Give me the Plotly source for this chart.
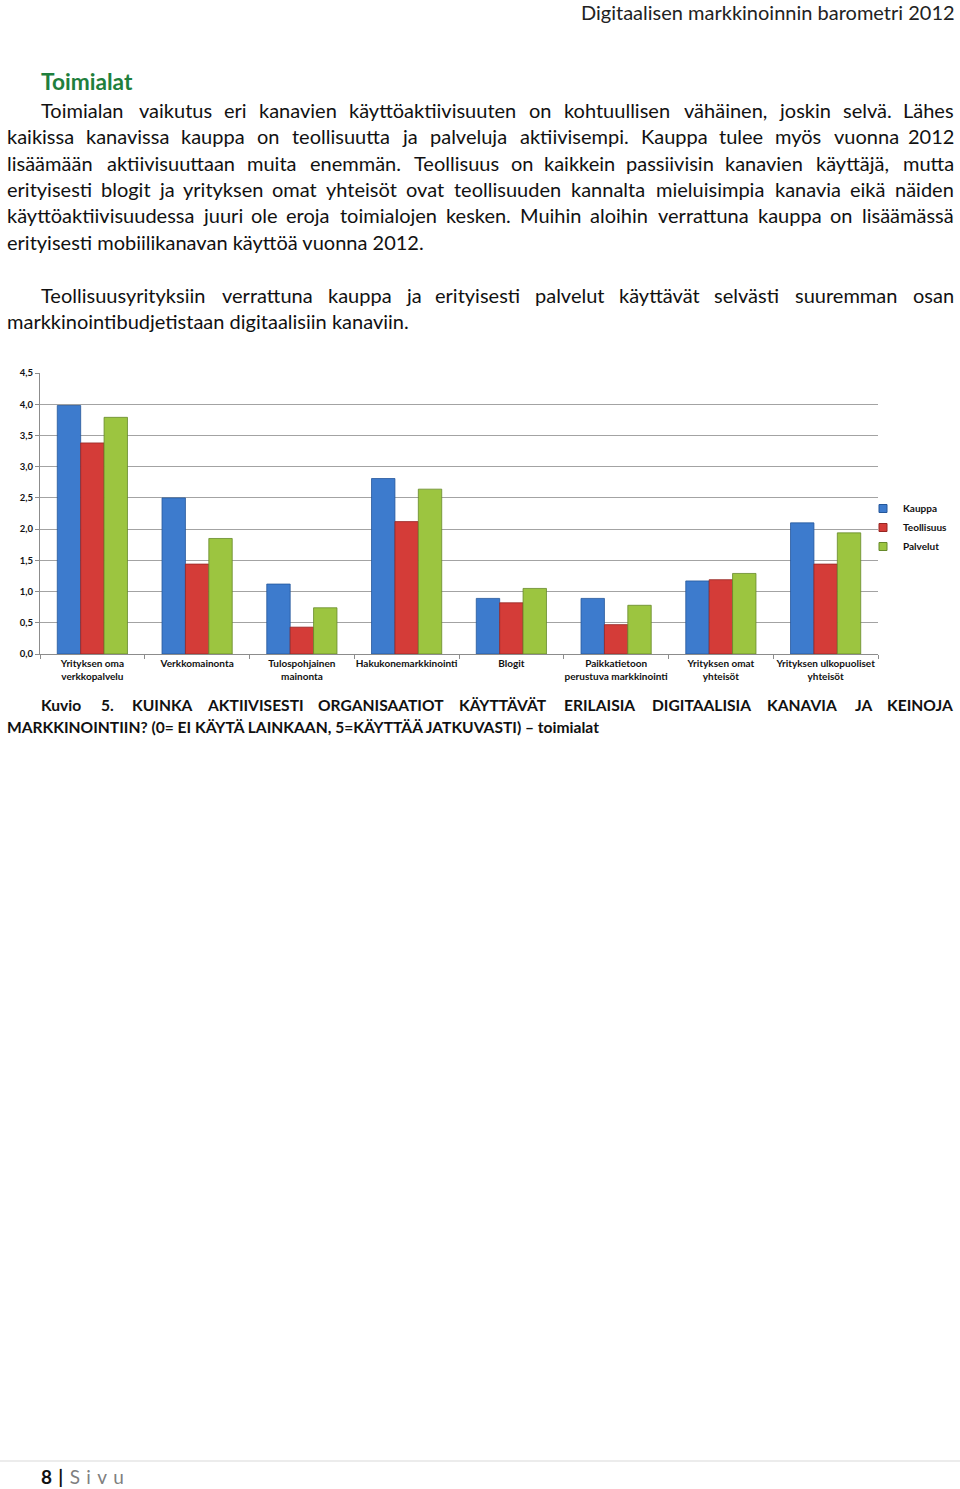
import plotly.graph_objects as go

W, H = 960, 1489

# ---------------- data ----------------
categories = [
    "Yrityksen oma<br>verkkopalvelu",
    "Verkkomainonta",
    "Tulospohjainen<br>mainonta",
    "Hakukonemarkkinointi",
    "Blogit",
    "Paikkatietoon<br>perustuva markkinointi",
    "Yrityksen omat<br>yhteisöt",
    "Yrityksen ulkopuoliset<br>yhteisöt",
]
kauppa = [3.98, 2.50, 1.12, 2.81, 0.89, 0.89, 1.17, 2.10]
teollisuus = [3.38, 1.44, 0.43, 2.12, 0.82, 0.47, 1.19, 1.44]
palvelut = [3.79, 1.85, 0.74, 2.64, 1.05, 0.78, 1.29, 1.94]
series_names = ["Kauppa", "Teollisuus", "Palvelut"]
y_ticks = [0.0, 0.5, 1.0, 1.5, 2.0, 2.5, 3.0, 3.5, 4.0, 4.5]

header_text = "Digitaalisen markkinoinnin barometri 2012"
heading_text = "Toimialat"
para1 = [
    "Toimialan vaikutus eri kanavien käyttöaktiivisuuten on kohtuullisen vähäinen, joskin selvä. Lähes",
    "kaikissa kanavissa kauppa on teollisuutta ja palveluja aktiivisempi. Kauppa tulee myös vuonna 2012",
    "lisäämään aktiivisuuttaan muita enemmän. Teollisuus on kaikkein passiivisin kanavien käyttäjä, mutta",
    "erityisesti blogit ja yrityksen omat yhteisöt ovat teollisuuden kannalta mieluisimpia kanavia eikä näiden",
    "käyttöaktiivisuudessa juuri ole eroja toimialojen kesken. Muihin aloihin verrattuna kauppa on lisäämässä",
    "erityisesti mobiilikanavan käyttöä vuonna 2012.",
]
para2 = [
    "Teollisuusyrityksiin verrattuna kauppa ja erityisesti palvelut käyttävät selvästi suuremman osan",
    "markkinointibudjetistaan digitaalisiin kanaviin.",
]
caption = [
    "Kuvio 5. KUINKA AKTIIVISESTI ORGANISAATIOT KÄYTTÄVÄT ERILAISIA DIGITAALISIA KANAVIA JA KEINOJA",
    "MARKKINOINTIIN? (0= EI KÄYTÄ LAINKAAN, 5=KÄYTTÄÄ JATKUVASTI) – toimialat",
]
footer_num = "8"
footer_word = "S\u2004i\u2004v\u2004u"

# ---------------- styles ----------------
FONT = "Lato"
colors = ["#3d7bcd", "#d43c38", "#9cc540"]
edges = ["#24579a", "#962623", "#66892a"]

# approximate Calibri advance widths (em) used to place justified words
REG = dict(zip(" abcdefghijklmnopqrstuvwxyzäö.,", [.226, .479, .525, .423, .525, .498, .305, .471, .525, .229, .239, .455, .229, .799, .525, .527, .525, .525, .349, .391, .335, .525, .452, .715, .433, .453, .395, .479, .527, .252, .250]))
REG.update(dict(zip("ABCDEFGHIJKLMNOPQRSTUVWXYZÄ0123456789", [.579, .544, .533, .615, .488, .459, .631, .623, .252, .319, .520, .420, .855, .646, .662, .517, .673, .543, .459, .487, .642, .567, .890, .519, .487, .468, .579] + [.507] * 10)))
BOLD = dict(zip(" abcdefghijklmnopqrstuvwxyzäö.,", [.226, .494, .537, .418, .537, .503, .316, .474, .537, .246, .255, .480, .246, .813, .537, .538, .537, .537, .355, .399, .347, .537, .473, .745, .459, .474, .397, .494, .538, .267, .258]))
BOLD.update(dict(zip("ABCDEFGHIJKLMNOPQRSTUVWXYZÄÖ0123456789", [.606, .561, .529, .630, .488, .459, .637, .631, .267, .331, .547, .423, .874, .659, .676, .532, .686, .563, .473, .495, .653, .591, .906, .551, .520, .478, .606, .676] + [.507] * 10)))


def est(word, bold):
    t = BOLD if bold else REG
    return sum(t.get(c, 0.5) for c in word)


fig = go.Figure()

for name, vals, c, e in zip(series_names, [kauppa, teollisuus, palvelut], colors, edges):
    fig.add_trace(go.Bar(
        name=name, x=categories, y=vals, showlegend=False, legendgroup=name,
        marker=dict(color=c, line=dict(color=e, width=0.8)),
        hoverinfo="skip",
    ))
# small square legend keys
for name, c, e in zip(series_names, colors, edges):
    fig.add_trace(go.Scatter(
        name=name, x=[None], y=[None], mode="markers", legendgroup=name,
        marker=dict(symbol="square", size=8, color=c, line=dict(color=e, width=1)),
        hoverinfo="skip",
    ))

ann = []


def py(y):
    return 1 - y / H


def add(x, y, text, size, bold=False, color="#111", xanchor="left"):
    ann.append(dict(
        x=x / W, y=py(y), xref="paper", yref="paper", text=text, showarrow=False,
        xanchor=xanchor, yanchor="middle", borderpad=0, borderwidth=0,
        font=dict(family=FONT, size=size, color=color, weight="bold" if bold else "normal"),
    ))


def justify(line, x0, x1, y, size, em_px, bold=False, color="#111"):
    words = line.split(" ")
    widths = [est(w, bold) * em_px for w in words]
    gap = (x1 - x0 - sum(widths)) / (len(words) - 1)
    x = x0
    for i, w in enumerate(words):
        if i == 0:
            add(x0, y, w, size, bold, color, "left")
        elif i == len(words) - 1:
            add(x1, y, w, size, bold, color, "right")
        else:
            add(x + widths[i] / 2, y, w, size, bold, color, "center")
        x += widths[i] + gap


BODY = 20.0
BODY_EM = 21.6
add(955, 12, header_text, BODY, color="#222", xanchor="right")
add(41, 82, heading_text, 22.7, bold=True, color="#1f7f3d")

ys1 = [110, 136, 163, 189, 215, 242]
for i, (line, y) in enumerate(zip(para1, ys1)):
    x0 = 41 if i == 0 else 7
    if i < len(para1) - 1:
        justify(line, x0, 954, y, BODY, BODY_EM)
    else:
        add(x0, y, line, BODY)

justify(para2[0], 41, 954, 295, BODY, BODY_EM)
add(7, 321, para2[1], BODY)

justify(caption[0], 41, 953, 705, 15.6, 17.1, bold=True)
add(7, 727, caption[1], 15.6, bold=True)

add(41, 1476, "<b>" + footer_num + "\u2004|</b>\u2004<span style='color:#7f7f7f'>" + footer_word + "</span>",
    19, color="#111")

fig.update_layout(
    width=W, height=H,
    margin=dict(l=0, r=0, t=0, b=0, pad=0, autoexpand=False),
    paper_bgcolor="white", plot_bgcolor="white",
    barmode="group", bargap=0.33, bargroupgap=0,
    separators=", ",
    showlegend=True,
    legend=dict(x=863 / W, y=py(494), xanchor="left", yanchor="top", itemwidth=30,
                traceorder="normal", tracegroupgap=0,
                font=dict(family=FONT, size=10, color="#111", weight="bold"),
                bgcolor="rgba(0,0,0,0)", borderwidth=0),
    xaxis=dict(domain=[40 / W, 878 / W], type="category", showline=True, linecolor="#8c8c8c",
               ticks="outside", tickson="boundaries", ticklen=4, tickcolor="#8c8c8c",
               showgrid=False, fixedrange=True, tickangle=0, automargin=False,
               tickfont=dict(family=FONT, size=10, color="#111", weight="bold")),
    yaxis=dict(domain=[py(654), py(373)], range=[0, 4.5], tickvals=y_ticks, tickformat=".1f",
               showline=True, linecolor="#8c8c8c", ticks="outside", ticklen=4, tickcolor="#8c8c8c",
               showgrid=True, gridcolor="#a3a3a3", gridwidth=1, zeroline=False, fixedrange=True,
               automargin=False,
               tickfont=dict(family=FONT, size=9.5, color="#111", weight="bold")),
    annotations=ann,
    shapes=[dict(type="line", xref="paper", yref="paper", x0=0, x1=1, y0=py(1461), y1=py(1461),
                 line=dict(color="#d9d9d9", width=1))],
)

fig.write_html("out.html")
